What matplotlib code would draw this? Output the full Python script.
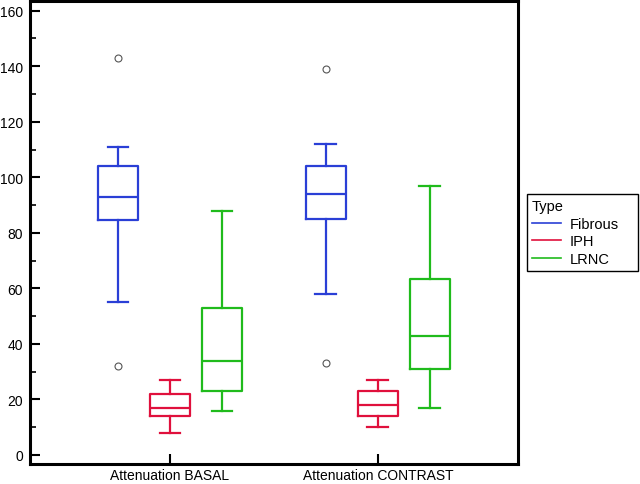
import matplotlib
matplotlib.use("Agg")
import matplotlib.pyplot as plt
from matplotlib.lines import Line2D
from matplotlib.ticker import MultipleLocator

plt.rcParams['font.family'] = ['Liberation Sans', 'DejaVu Sans']

groups = ['Attenuation BASAL', 'Attenuation CONTRAST']
types = ['Fibrous', 'IPH', 'LRNC']
colors = ['#2a3fd6', '#e0103c', '#20bb1c']

# whislo, q1, med, q3, whishi, outliers  (per group, per type)
basal = [
    [55, 84.5, 93, 104, 111, [143, 32]],
    [8, 14, 17, 22, 27, []],
    [16, 23, 34, 53, 88, []],
]
contrast = [
    [58, 85, 94, 104, 112, [139, 33]],
    [10, 14, 18, 23, 27, []],
    [17, 31, 43, 63.5, 97, []],
]
data = [basal, contrast]

fig = plt.figure(figsize=(6.4, 4.85), dpi=100)
ax = fig.add_axes([0.047, 0.041, 0.762, 0.955])

offsets = [-0.25, 0.0, 0.25]
for gi, grp in enumerate(data):
    for ti, row in enumerate(grp):
        lo, q1, med, q3, hi, fl = row
        st = dict(whislo=lo, q1=q1, med=med, q3=q3, whishi=hi, fliers=fl)
        c = colors[ti]
        lp = dict(color=c, linewidth=1.6)
        ax.bxp([st], positions=[gi + 1 + offsets[ti]], widths=0.19,
               boxprops=lp, whiskerprops=lp, capprops=lp, medianprops=lp,
               flierprops=dict(marker='o', markersize=5, markerfacecolor='white',
                               markeredgecolor='#555555', markeredgewidth=0.8),
               capwidths=0.1, manage_ticks=False)

ax.set_xlim(0.327, 2.673)
ax.set_ylim(-3.3, 163.5)
ax.set_xticks([1, 2])
ax.set_xticklabels(groups, fontsize=10)
ax.yaxis.set_major_locator(MultipleLocator(20))
ax.yaxis.set_minor_locator(MultipleLocator(10))
ax.tick_params(axis='y', which='major', direction='in', length=7, width=1.5, labelsize=10, pad=5)
ax.tick_params(axis='y', which='minor', direction='in', length=4, width=1.2)
ax.tick_params(axis='x', direction='in', length=7, width=1.5, pad=3)
for s in ax.spines.values():
    s.set_linewidth(2.2)

handles = [Line2D([0], [0], color=c, linewidth=1.2) for c in colors]
leg = fig.legend(handles, types, title='Type', loc='upper left',
                 bbox_to_anchor=(0.8234, 0.0, 0.1734, 0.598), mode='expand',
                 fontsize=10.5, title_fontsize=10.5,
                 frameon=True, fancybox=False, edgecolor='black', framealpha=1,
                 handlelength=2.0, handletextpad=0.6, borderpad=0.35,
                 labelspacing=0.25, borderaxespad=0)
leg._legend_box.align = 'left'
leg.get_frame().set_linewidth(1.0)

fig.savefig('out.png', dpi=100)
